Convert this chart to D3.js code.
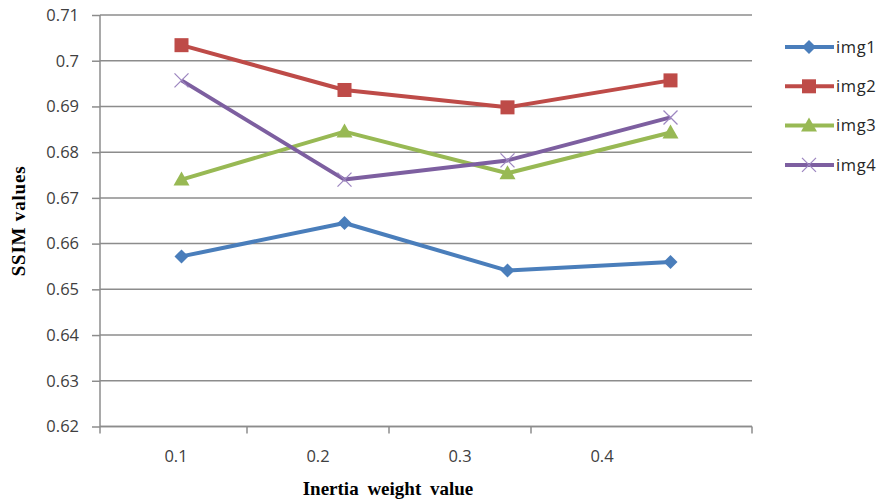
<!DOCTYPE html>
<html>
<head>
<meta charset="utf-8">
<script src="https://cdn.jsdelivr.net/npm/d3@7"></script>
<style>
  body { margin: 0; background: #fff; }
  svg { display: block; }
</style>
</head>
<body>
<svg id="chart" width="881" height="502"></svg>
<script>
// Inertia weight settings and SSIM results per test image
const categories = ["0.1", "0.2", "0.3", "0.4"];
const img1 = [0.6572, 0.6645, 0.6541, 0.6560];
const img2 = [0.7034, 0.6936, 0.6898, 0.6957];
const img3 = [0.6740, 0.6845, 0.6754, 0.6843];
const img4 = [0.6957, 0.6740, 0.6782, 0.6876];
const seriesNames = ["img1", "img2", "img3", "img4"];
const yTicks = [0.62, 0.63, 0.64, 0.65, 0.66, 0.67, 0.68, 0.69, 0.70, 0.71];

const series = [
  { name: seriesNames[0], values: img1, color: "#4a7ebb", marker: "diamond" },
  { name: seriesNames[1], values: img2, color: "#be4b48", marker: "square" },
  { name: seriesNames[2], values: img3, color: "#98b954", marker: "triangle" },
  { name: seriesNames[3], values: img4, color: "#7d5fa0", marker: "cross" }
];

const svg = d3.select("#chart");
const plotLeft = 100, plotRight = 752, plotTop = 15, plotBottom = 426.5;
const labelFont = "'Open Sans', sans-serif";
const titleFont = "'Liberation Serif', serif";

const y = d3.scaleLinear().domain([0.62, 0.71]).range([plotBottom, plotTop]);
// positions of the data points
const x = d3.scaleBand().domain(categories).range([plotLeft, plotRight]);
// category labels along the bottom axis
const xAxisScale = d3.scaleBand().domain(categories).range([105, 673]);

// horizontal gridlines
svg.append("g").selectAll("line").data(yTicks).join("line")
  .attr("x1", plotLeft).attr("x2", plotRight)
  .attr("y1", d => y(d)).attr("y2", d => y(d))
  .attr("stroke", "#8c8c8c").attr("stroke-width", 1.5);

// y axis
const yAxis = svg.append("g").attr("transform", `translate(${plotLeft},0)`)
  .call(d3.axisLeft(y).tickValues(yTicks).tickFormat(d => +d.toFixed(2) + "").tickSizeInner(8).tickSizeOuter(0).tickPadding(13));
yAxis.select(".domain").attr("stroke", "#8c8c8c").attr("stroke-width", 1.5)
  .attr("d", `M0,${plotTop}V${plotBottom + 7}`);
yAxis.selectAll(".tick line").attr("stroke", "#8c8c8c").attr("stroke-width", 1.5);
yAxis.selectAll(".tick text").attr("fill", "#404040")
  .style("font-family", labelFont).style("font-size", "16.5px");

// x axis
const xAxis = svg.append("g").attr("transform", `translate(0,${plotBottom})`)
  .call(d3.axisBottom(xAxisScale).tickSize(0).tickPadding(24));
xAxis.select(".domain").attr("stroke", "#8c8c8c").attr("stroke-width", 1.5)
  .attr("d", `M${plotLeft},0H${plotRight}`);
xAxis.selectAll(".tick text").attr("fill", "#404040")
  .style("font-family", labelFont).style("font-size", "16.5px");
const bounds = categories.slice(1).map(c => xAxisScale(c)).concat([plotRight]);
xAxis.append("g").selectAll("line").data(bounds).join("line")
  .attr("x1", d => d).attr("x2", d => d).attr("y1", 0).attr("y2", 7)
  .attr("stroke", "#8c8c8c").attr("stroke-width", 1.5);

// lines
const cx = c => x(c) + x.bandwidth() / 2;
const line = d3.line().x((d, i) => cx(categories[i])).y(d => y(d));

function drawMarker(g, type, color) {
  if (type === "diamond") {
    g.append("path").attr("d", "M0,-7L7,0L0,7L-7,0Z").attr("fill", color);
  } else if (type === "square") {
    g.append("rect").attr("x", -7).attr("y", -7).attr("width", 14).attr("height", 14).attr("fill", color);
  } else if (type === "triangle") {
    g.append("path").attr("d", "M0,-8L8,6L-8,6Z").attr("fill", color);
  } else {
    g.append("path").attr("d", "M-7,-7L7,7M-7,7L7,-7").attr("stroke", "#9d86c0").attr("stroke-width", 1.3).attr("fill", "none");
  }
}

series.forEach(s => {
  svg.append("path").datum(s.values)
    .attr("d", line).attr("fill", "none")
    .attr("stroke", s.color).attr("stroke-width", 4).attr("stroke-linejoin", "round");
  s.values.forEach((v, i) => {
    const g = svg.append("g").attr("transform", `translate(${cx(categories[i])},${y(v)})`);
    drawMarker(g, s.marker, s.color);
  });
});

// legend
const legend = svg.append("g");
series.forEach((s, i) => {
  const ly = 47 + i * 39.3;
  const g = legend.append("g").attr("transform", `translate(0,${ly})`);
  g.append("line").attr("x1", 785).attr("x2", 834).attr("y1", 0).attr("y2", 0)
    .attr("stroke", s.color).attr("stroke-width", 4);
  const m = g.append("g").attr("transform", "translate(809,0)");
  drawMarker(m, s.marker, s.color);
  g.append("text").attr("x", 836).attr("y", 0).attr("dy", "0.35em")
    .attr("fill", "#262626").attr("letter-spacing", "0.6")
    .style("font-family", labelFont).style("font-size", "16.5px")
    .text(s.name);
});

// axis titles
svg.append("text").attr("transform", "translate(25,221) rotate(-90)")
  .attr("text-anchor", "middle")
  .style("font-family", titleFont).style("font-weight", "bold").style("font-size", "19px")
  .attr("letter-spacing", "0.8")
  .attr("fill", "#000").text("SSIM values");
svg.append("text").attr("x", 388).attr("y", 495)
  .attr("text-anchor", "middle")
  .style("font-family", titleFont).style("font-weight", "bold").style("font-size", "19px")
  .attr("word-spacing", "4")
  .attr("fill", "#000").text("Inertia weight value");
</script>
</body>
</html>
